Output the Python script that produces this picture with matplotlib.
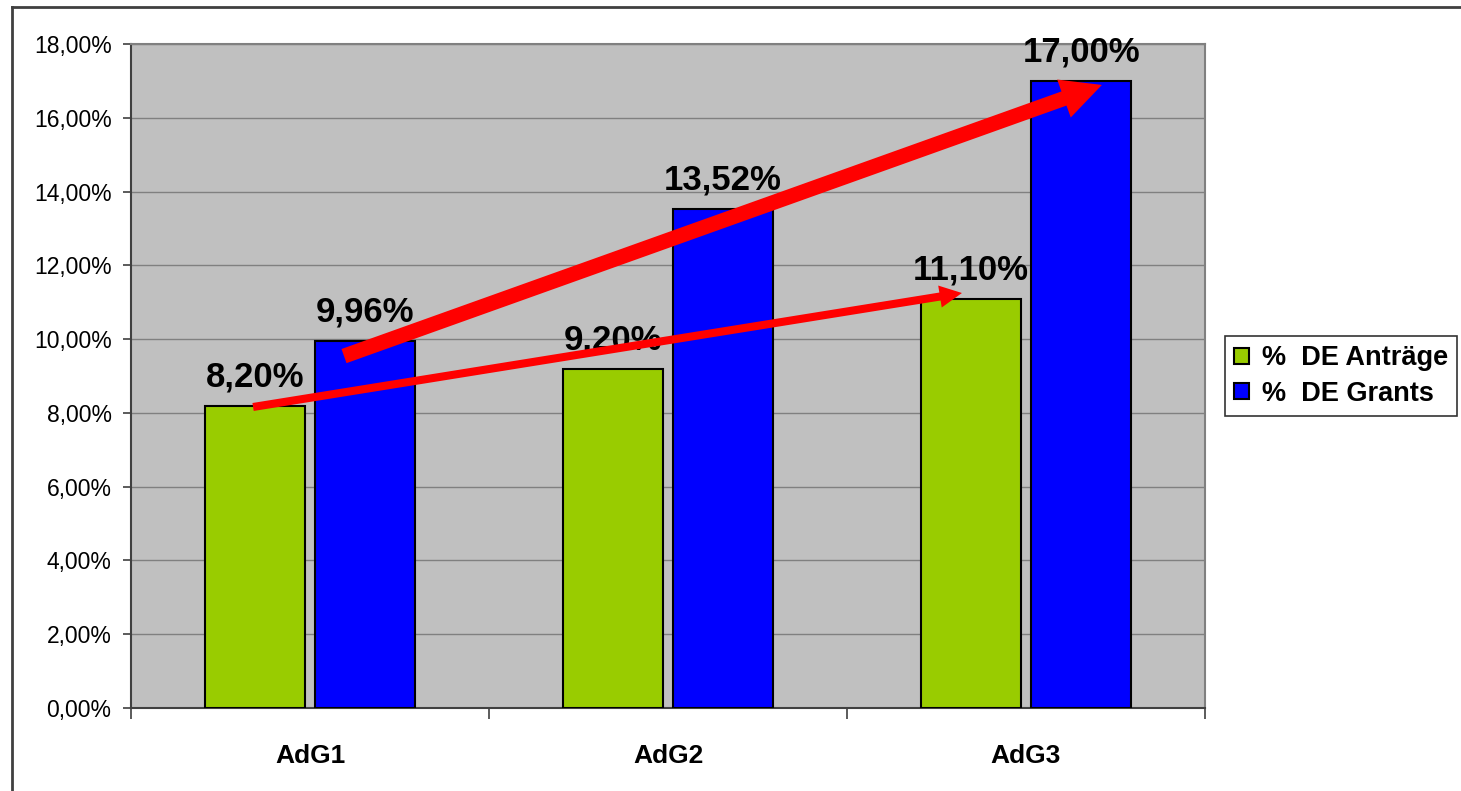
import matplotlib.pyplot as plt
import numpy as np
from matplotlib.lines import Line2D

plt.rcParams['font.family'] = ['Liberation Sans', 'DejaVu Sans']

# --- DATA --------------------------- #
categories = ["AdG1", "AdG2", "AdG3"]
antraege = [8.20, 9.20, 11.10]
grants = [9.96, 13.52, 17.00]
series_names = ["%  DE Anträge", "%  DE Grants"]
yticks = np.arange(0, 18.01, 2)
# ------------------------------------ #

fig = plt.figure(figsize=(14.61, 7.91), dpi=100)
ax = fig.add_axes([131/1461, 1 - 708/791, (1205-131)/1461, (708-44)/791])
ax.set_facecolor("#C0C0C0")

x = np.arange(len(categories)) + 0.5
w = 0.279
off = 0.154

b1 = ax.bar(x - off, antraege, w, color="#99CC00", edgecolor="black", linewidth=1.5,
            label=series_names[0], zorder=3)
b2 = ax.bar(x + off, grants, w, color="#0000FF", edgecolor="black", linewidth=1.5,
            label=series_names[1], zorder=3)

for xs, vals in [(x - off, antraege), (x + off, grants)]:
    for xi, v in zip(xs, vals):
        ax.annotate(f"{v:.2f}%".replace(".", ","), (xi, v), xytext=(0, 14),
                    textcoords="offset points", ha="center", va="baseline",
                    fontsize=25, fontweight="bold", zorder=4)

# --- ARROWS ------------------------- #
ax.annotate("", xy=(x[2] - off - 0.025, antraege[2] + 0.15),
            xytext=(x[0] - off - 0.005, antraege[0] - 0.04),
            arrowprops=dict(arrowstyle="simple,head_length=0.8,head_width=0.8,tail_width=0.29",
                            mutation_scale=20, color="#FF0000", lw=0,
                            shrinkA=0, shrinkB=0), zorder=5)
ax.annotate("", xy=(x[2] + off + 0.058, grants[2] - 0.11),
            xytext=(x[0] + off - 0.059, grants[0] - 0.42),
            arrowprops=dict(arrowstyle="simple,head_length=1.45,head_width=1.45,tail_width=0.54",
                            mutation_scale=20, color="#FF0000", lw=0,
                            shrinkA=0, shrinkB=0), zorder=5)
# ------------------------------------ #

ax.set_xlim(0, 3)
ax.set_ylim(0, 18)
ax.set_yticks(yticks)
ax.set_yticklabels([f"{t:.2f}%".replace(".", ",") for t in yticks], fontsize=16.5)
ax.set_xticks(x)
ax.set_xticklabels(categories, fontsize=19, fontweight="bold")
ax.set_xticks([0, 1, 2, 3], minor=True)
ax.tick_params(axis="x", which="major", length=0, pad=26)
ax.tick_params(axis="x", which="minor", length=8, width=1.2, color="#404040")
ax.tick_params(axis="y", length=6, width=1.2, color="#404040", pad=8)
ax.grid(axis="y", color="#808080", linewidth=1, zorder=0)
ax.set_axisbelow(True)

for s in ["left", "bottom"]:
    ax.spines[s].set_color("#404040")
    ax.spines[s].set_linewidth(1.5)
for s in ["top", "right"]:
    ax.spines[s].set_color("#808080")
    ax.spines[s].set_linewidth(1.5)

leg = ax.legend(loc="center left", bbox_to_anchor=(1225/1461, 1 - 376/791),
                bbox_transform=fig.transFigure, frameon=True, fancybox=False,
                edgecolor="black", prop={"size": 19.5, "weight": "bold"},
                handlelength=0.55, handleheight=0.55, handletextpad=0.45,
                borderpad=0.35, labelspacing=0.35, borderaxespad=0)
leg.get_frame().set_linewidth(1.2)

# outer chart border (only left and top visible)
fig.add_artist(Line2D([12/1461, 12/1461], [0, 1 - 7/791], transform=fig.transFigure,
                      color="#404040", lw=2))
fig.add_artist(Line2D([12/1461, 1], [1 - 7/791, 1 - 7/791], transform=fig.transFigure,
                      color="#404040", lw=2))

fig.savefig("out.png", dpi=100)
